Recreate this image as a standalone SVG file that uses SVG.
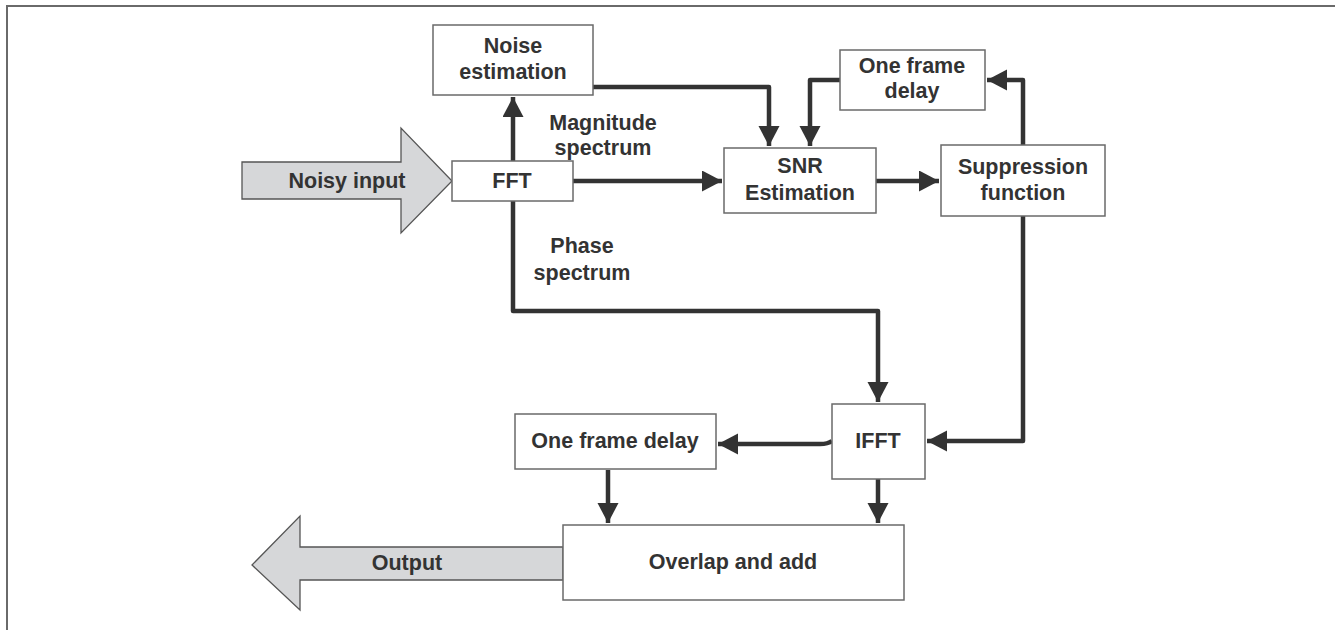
<svg xmlns="http://www.w3.org/2000/svg" width="1335" height="630" viewBox="0 0 1335 630">
<style>
.box{fill:#fff;stroke:#6a6a6a;stroke-width:1.5}
.big{fill:#d6d7d9;stroke:#555;stroke-width:1.3}
.t{font-family:"Liberation Sans",Arial,sans-serif;font-weight:bold;font-size:21.5px;fill:#333;text-anchor:middle}
.c{fill:none;stroke:#333;stroke-width:4.5;stroke-linejoin:round}
</style>
<defs>
<marker id="ah" markerUnits="userSpaceOnUse" markerWidth="22" markerHeight="22" refX="20" refY="10.5" orient="auto">
<path d="M0,0 L20,10.5 L0,21 Z" fill="#333"/>
</marker>
</defs>
<rect width="1335" height="630" fill="#fff"/>
<path d="M7,640 V6 H1345" fill="none" stroke="#6a6a6a" stroke-width="2"/>

<g id="connectors">
<path class="c" d="M513,161 V97" marker-end="url(#ah)"/>
<path class="c" d="M593,87 H769 V146" marker-end="url(#ah)"/>
<path class="c" d="M840,80 H810 V146" marker-end="url(#ah)"/>
<path class="c" d="M1023,145 V80 H987" marker-end="url(#ah)"/>
<path class="c" d="M573,181 H722" marker-end="url(#ah)"/>
<path class="c" d="M876,181 H939" marker-end="url(#ah)"/>
<path class="c" d="M513,201 V311 H878 V402" marker-end="url(#ah)"/>
<path class="c" d="M1023,216 V441 H927" marker-end="url(#ah)"/>
<path class="c" d="M832,441 Q828,444 820,444 H718" marker-end="url(#ah)"/>
<path class="c" d="M608,470 V523" marker-end="url(#ah)"/>
<path class="c" d="M878,479 V523" marker-end="url(#ah)"/>
</g>

<g id="noisy-input">
<path class="big" d="M242,162 H401 V128 L452,181 L401,233 V199 H242 Z"/>
<text class="t" x="347" y="188">Noisy input</text>
</g>
<g id="output">
<path class="big" d="M563,547 H300 V516 L252,565 L300,610 V580 H563 Z"/>
<text class="t" x="407" y="570">Output</text>
</g>
<g id="noise-estimation">
<rect class="box" x="433" y="25" width="160" height="70"/>
<text class="t" x="513" y="53">Noise</text>
<text class="t" x="513" y="79">estimation</text>
</g>
<g id="fft">
<rect class="box" x="452" y="161" width="121" height="40"/>
<text class="t" x="512" y="188">FFT</text>
</g>
<g id="magnitude-label">
<text class="t" x="603" y="130">Magnitude</text>
<text class="t" x="603" y="155">spectrum</text>
</g>
<g id="phase-label">
<text class="t" x="582" y="253">Phase</text>
<text class="t" x="582" y="280">spectrum</text>
</g>
<g id="snr">
<rect class="box" x="724" y="148" width="152" height="65"/>
<text class="t" x="800" y="173">SNR</text>
<text class="t" x="800" y="200">Estimation</text>
</g>
<g id="delay-top">
<rect class="box" x="840" y="50" width="145" height="60"/>
<text class="t" x="912" y="73">One frame</text>
<text class="t" x="912" y="98">delay</text>
</g>
<g id="suppression">
<rect class="box" x="941" y="145" width="164" height="71"/>
<text class="t" x="1023" y="174">Suppression</text>
<text class="t" x="1023" y="200">function</text>
</g>
<g id="ifft">
<rect class="box" x="832" y="404" width="93" height="75"/>
<text class="t" x="878" y="448">IFFT</text>
</g>
<g id="delay-bottom">
<rect class="box" x="515" y="414" width="201" height="55"/>
<text class="t" x="615" y="448">One frame delay</text>
</g>
<g id="overlap-add">
<rect class="box" x="563" y="525" width="341" height="75"/>
<text class="t" x="733" y="569">Overlap and add</text>
</g>
</svg>
